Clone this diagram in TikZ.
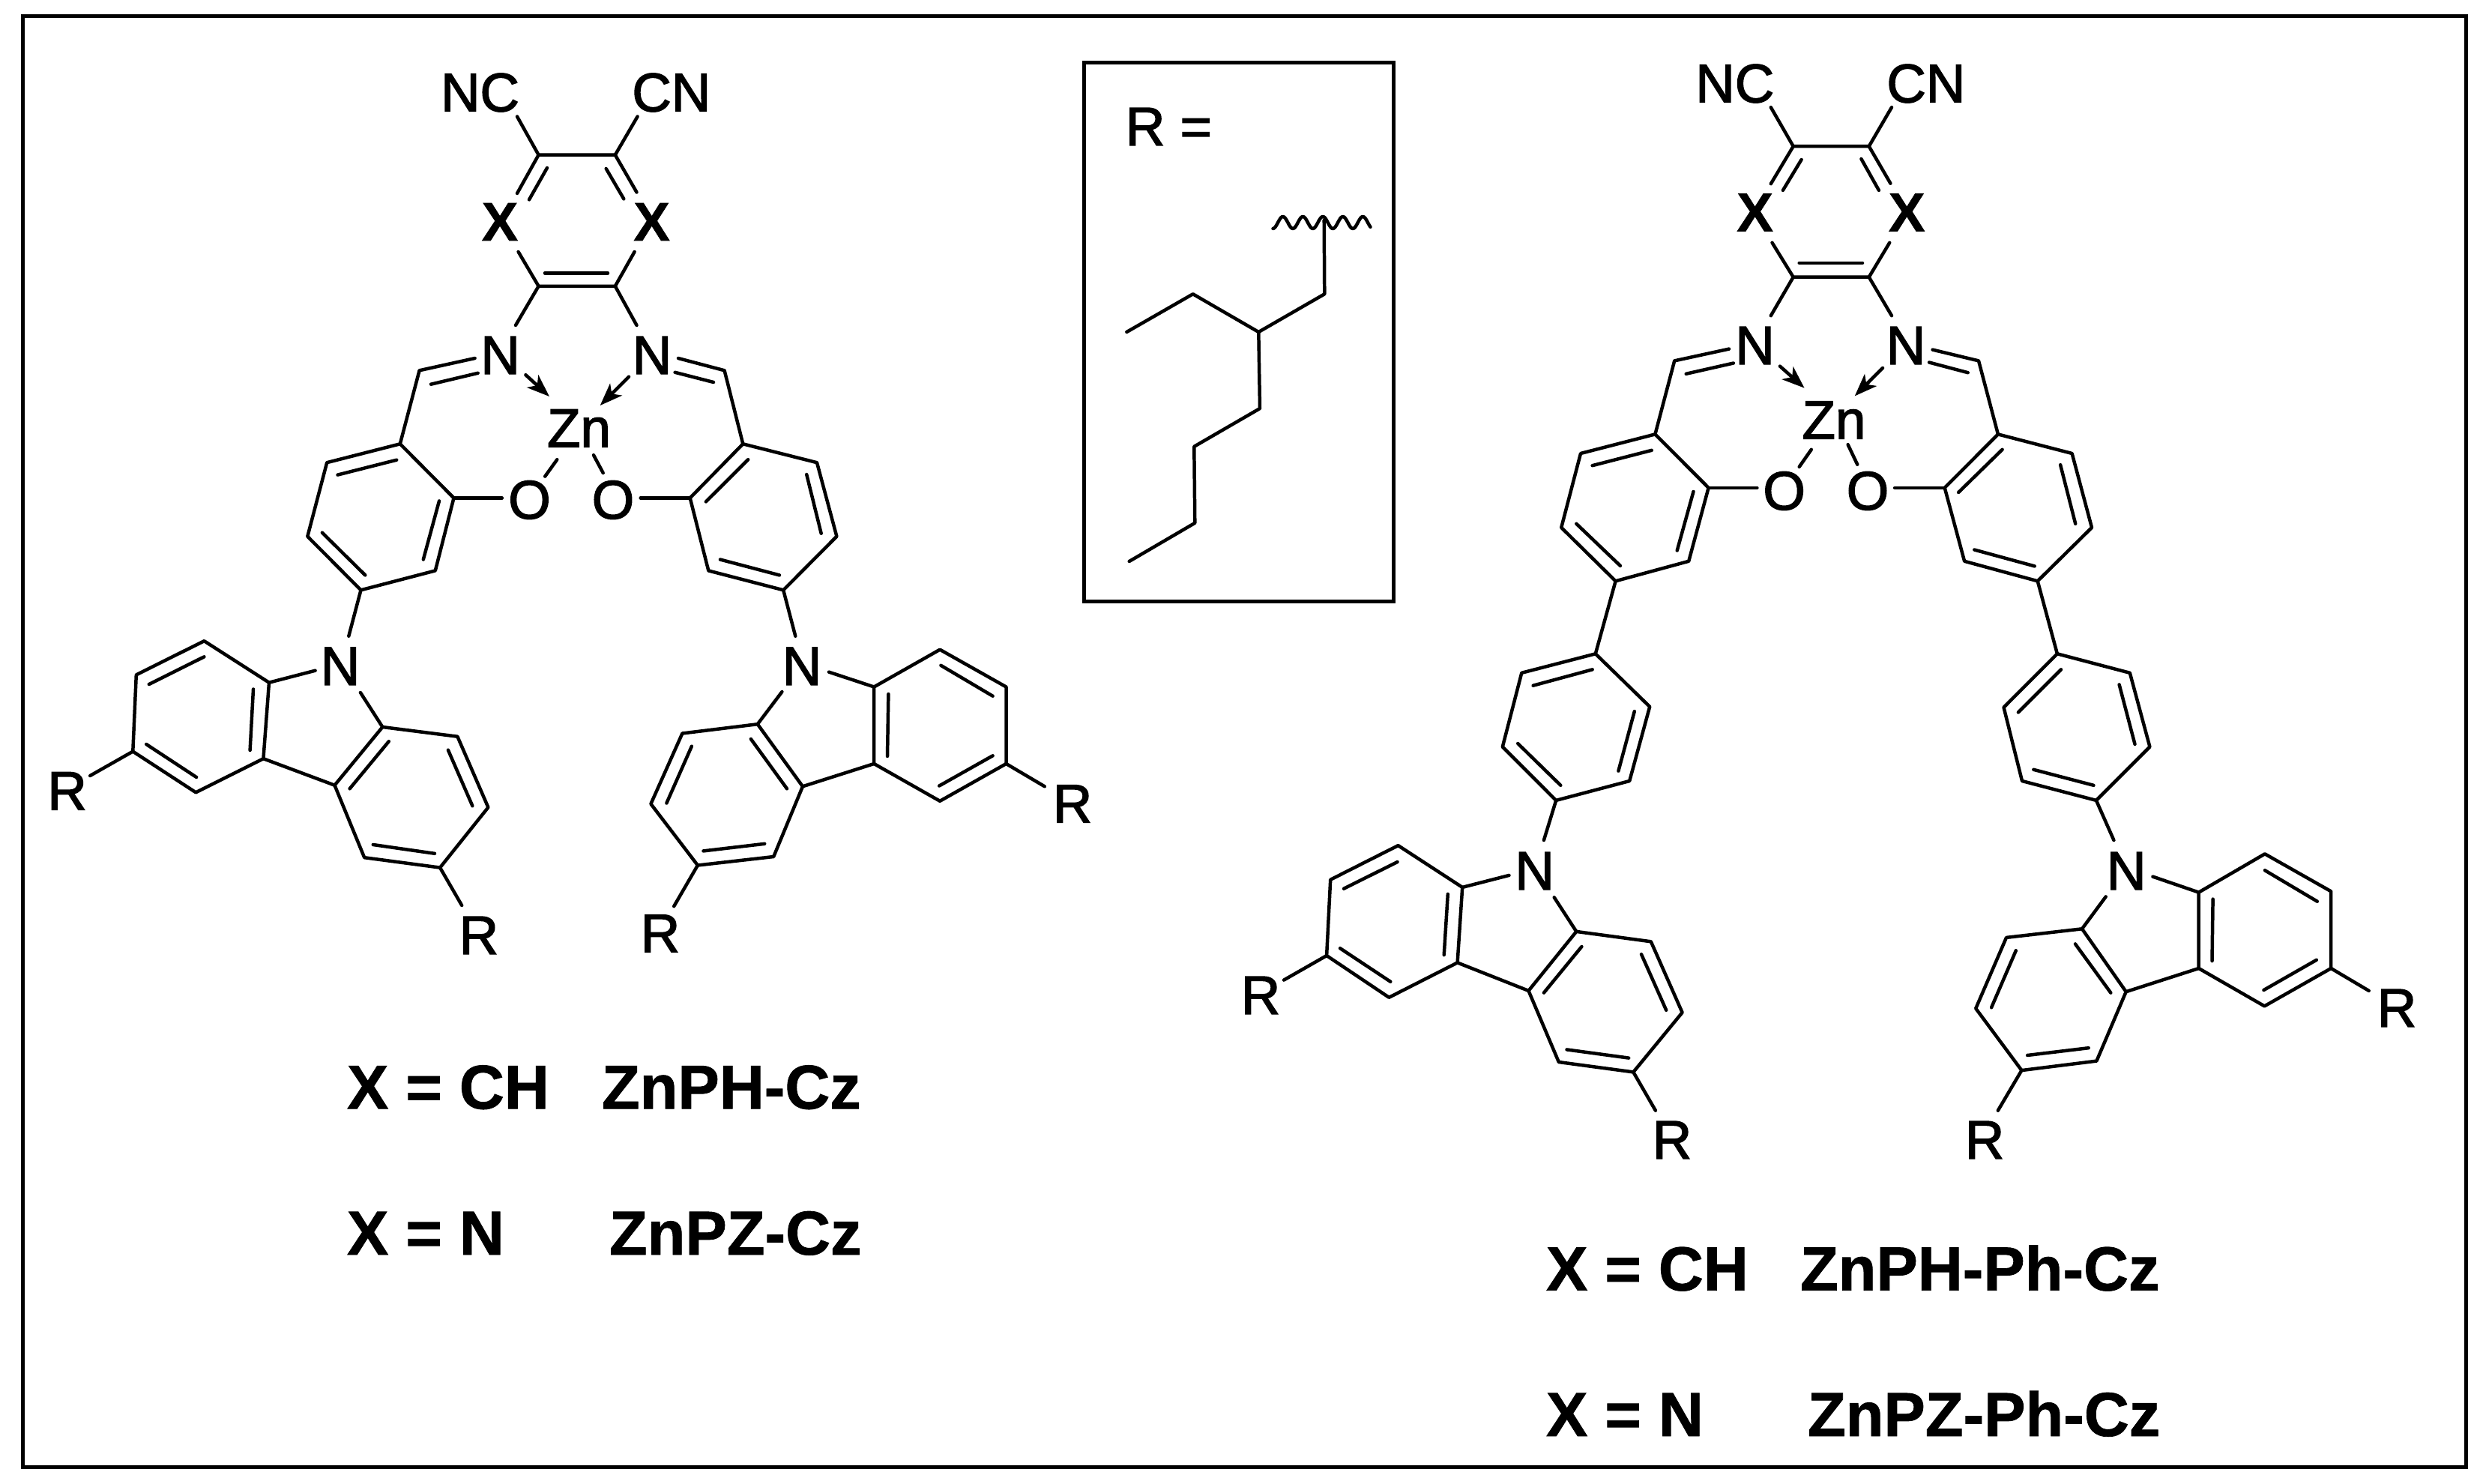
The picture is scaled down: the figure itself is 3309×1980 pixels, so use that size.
\documentclass[tikz,border=0pt]{standalone}
\usepackage{fontspec}
\setmainfont{Liberation Sans}
\newfontfamily\atomfont[RawFeature={embolden=2}]{Liberation Sans}
\newfontfamily\atombold[RawFeature={embolden=1}]{Liberation Sans Bold}
\usetikzlibrary{arrows.meta}
\tikzset{
  bond/.style={line width=1.12pt,line cap=round,line join=round,black},
  inner/.style={bond},
  dative/.style={bond,-{Stealth[length=7.5pt,width=5.6pt,inset=2pt]}},
  frame/.style={line width=1.25pt,black},
  atom/.style={inner sep=0pt,outer sep=0pt,anchor=base,font=\fontsize{18.15}{20}\atomfont},
  xatom/.style={atom,font=\fontsize{18.15}{20}\atombold},
  caption/.style={inner sep=0pt,outer sep=0pt,anchor=base west,font=\fontsize{20.75}{24}\atombold}
}
\newcommand\Pts[1]{\foreach \n/\a/\b in {#1}{\coordinate (\n) at (\a,\b);}}
\begin{document}
\begin{tikzpicture}[x=0.25pt,y=-0.25pt]
\useasboundingbox (0,0) rectangle (3309,1980);
\fill[white] (0,0) rectangle (3309,1980);
\draw[frame] (30.5,21.5) rectangle (3290.5,1957.5);
\draw[frame] (1446.7,84) rectangle (1859,802);

% ---------- left molecule: labels
\node[atom] (aNC) at (640.5,148.5) {NC};
\node[atom] (aCN) at (895.8,148.5) {CN};
\node[xatom] (aX1) at (667,321) {X};
\node[xatom] (aX2) at (869.6,321) {X};
\node[atom] (aN1) at (667.5,499) {N};
\node[atom] (aN2) at (870,499) {N};
\node[atom] (aZn) at (772.5,596.3) {Zn};
\node[atom] (aO1) at (706.5,692) {O};
\node[atom] (aO2) at (818,692) {O};
\node[atom] (aN3) at (454,913.8) {N};
\node[atom] (aN4) at (1070,913.8) {N};
\node[atom] (aR1) at (89.6,1080.3) {R};
\node[atom] (aR2) at (638.9,1273) {R};
\node[atom] (aR3) at (1431,1097.5) {R};
\node[atom] (aR4) at (881,1270.5) {R};

% centre ring
\coordinate (a1) at (718.6,206.7); \coordinate (a2) at (820.8,206.7);
\coordinate (a3) at (718.6,381.8); \coordinate (a4) at (820.8,381.8);
\coordinate (aNCe) at (690,155.5); \coordinate (aCNe) at (850.6,155.5);
\coordinate (aX1t) at (690,258); \coordinate (aX2t) at (849.5,256.5);
\coordinate (aX1b) at (691.6,336); \coordinate (aX2b) at (846.6,336);
\coordinate (aN1e) at (688,434); \coordinate (aN2e) at (849.5,434);
\draw[bond] (aNCe) -- (a1) -- (a2) -- (aCNe);
\draw[bond] (a1) -- (aX1t); \draw[bond] (a2) -- (aX2t);
\draw[bond] (aX1b) -- (a3) -- (a4) -- (aX2b);
\draw[bond] (a3) -- (aN1e); \draw[bond] (a4) -- (aN2e);
\draw[inner] (730,224) -- (706,266.4);
\draw[inner] (808.7,225) -- (832.3,265.4);
\draw[inner] (727,364.4) -- (811,364.4);
% imines
\coordinate (aC1) at (559.6,494.3); \coordinate (aC2) at (966.6,494.3);
\coordinate (aN1l) at (633.6,478); \coordinate (aN2r) at (905,478);
\Pts{al1/533.8/592.3,al2/436.2/617.2,al3/410.3/715.7,al4/481.5/787.3,al5/580.8/761.4,al6/605.5/664.4}
\Pts{ar1/991.3/592.3,ar2/1090/617.2,ar3/1116.4/715.7,ar4/1045.2/787.3,ar5/945.3/761.4,ar6/920.7/664.4}
\draw[bond] (aN1l) -- (aC1) -- (al1);
\draw[bond] (aN2r) -- (aC2) -- (ar1);
\draw[inner] (575,512.7) -- (637.7,497.8);
\draw[inner] (952,510) -- (900.6,496.8);
\draw[bond] (al1) -- (al2) -- (al3) -- (al4) -- (al5) -- (al6) -- cycle;
\draw[bond] (ar1) -- (ar2) -- (ar3) -- (ar4) -- (ar5) -- (ar6) -- cycle;
\draw[inner] (450.5,633.6) -- (529.2,613.7);
\draw[inner] (429.9,710.7) -- (487.3,767.4);
\draw[inner] (564.8,746.5) -- (586,668.4);
\draw[inner] (1076.2,633) -- (1095.7,711.7);
\draw[inner] (960.9,746.5) -- (1040,767.4);
\draw[inner] (998.2,613.2) -- (941.9,669.4);
\coordinate (aO1e) at (669.8,664.4); \coordinate (aO2e) at (854.7,664.4);
\draw[bond] (al6) -- (aO1e); \draw[bond] (ar6) -- (aO2e);
\coordinate (aD1s) at (701.4,500.2); \coordinate (aD1e) at (733,529);
\coordinate (aD2s) at (839,502.7); \coordinate (aD2e) at (800.7,541);
\draw[dative] (aD1s) -- (aD1e);
\draw[dative] (aD2s) -- (aD2e);
\coordinate (aZ1a) at (727.2,635.6); \coordinate (aZ1b) at (743.3,613.2);
\coordinate (aZ2a) at (804.7,631); \coordinate (aZ2b) at (792,607.2);
\draw[bond] (aZ1a) -- (aZ1b); \draw[bond] (aZ2a) -- (aZ2b);
% left carbazole
\coordinate (aN3t) at (465.3,848.7);
\draw[bond] (al4) -- (aN3t);
\Pts{c1/359/910.7,c2/272.4/855.2,c3/181.8/900.4,c4/177.3/1002.6,c5/261.3/1057.3,c6/351.4/1012.2}
\Pts{c7/510.4/970,c8/610.4/982.7,c9/651.4/1077.2,c10/587.1/1157.6,c11/486.2/1144.2,c12/446.5/1047.7}
\coordinate (cNa) at (420.6,894.7); \coordinate (cNb) at (480.9,924);
\coordinate (cRa) at (120.2,1035); \coordinate (cRb) at (616.2,1208);
\draw[bond] (c1) -- (c2) -- (c3) -- (c4) -- (c5) -- (c6) -- cycle;
\draw[bond] (c7) -- (c8) -- (c9) -- (c10) -- (c11) -- (c12) -- cycle;
\draw[bond] (c6) -- (c12);
\draw[bond] (c1) -- (cNa); \draw[bond] (cNb) -- (c7);
\draw[bond] (c4) -- (cRa); \draw[bond] (c10) -- (cRb);
\draw[inner] (198.8,913) -- (272.4,876.3);
\draw[inner] (338,919.5) -- (333.6,1001);
\draw[inner] (195.2,993) -- (262.1,1037);
\draw[inner] (518.8,989.2) -- (466.6,1052.3);
\draw[inner] (597.9,1000.7) -- (630.4,1075.3);
\draw[inner] (497.8,1127) -- (580,1138.8);
% right carbazole
\coordinate (aN4t) at (1061.3,848.7);
\draw[bond] (ar4) -- (aN4t);
\Pts{d1/1166.2/916.5,d2/1254.1/866.7,d3/1342.5/916.5,d4/1342.5/1019,d5/1254.1/1068.8,d6/1166.2/1019}
\Pts{d7/1010.8/966.2,d8/910.4/978.5,d9/868.4/1072.6,d10/930.9/1154.5,d11/1032.2/1143,d12/1071/1049.3}
\coordinate (dNa) at (1105.9,896.6); \coordinate (dNb) at (1043.4,923);
\coordinate (dRa) at (1393.8,1049.3); \coordinate (dRb) at (899.2,1209.2);
\draw[bond] (d1) -- (d2) -- (d3) -- (d4) -- (d5) -- (d6) -- cycle;
\draw[bond] (d7) -- (d8) -- (d9) -- (d10) -- (d11) -- (d12) -- cycle;
\draw[bond] (d6) -- (d12);
\draw[bond] (d1) -- (dNa); \draw[bond] (dNb) -- (d7);
\draw[bond] (d4) -- (dRa); \draw[bond] (d10) -- (dRb);
\draw[inner] (1255.4,887.8) -- (1324.6,928.7);
\draw[inner] (1324.6,1008.3) -- (1253.2,1048.5);
\draw[inner] (1185.4,926) -- (1184,1009);
\draw[inner] (1001.9,986) -- (1050,1052.3);
\draw[inner] (922.9,995.7) -- (889.4,1071.5);
\draw[inner] (938.5,1135.4) -- (1020.2,1125.8);

% ---------- R box
\node[atom,anchor=base west] (rLabel) at (1502,194) {R =};
\Pts{s1/1503.3/443,s2/1591.7/392.3,s3/1679.3/443,s4/1767.3/392.3,s5/1766.7/293.8,s6/1681/545,s7/1593.3/595.8,s8/1594.3/697.8,s9/1506.7/749}
\draw[bond] (s1) -- (s2) -- (s3) -- (s4) -- (s5);
\draw[bond] (s3) -- (s6) -- (s7) -- (s8) -- (s9);
\draw[bond,domain=1698.5:1828.5,samples=120] plot (\x,{297-8*cos(13.498*(\x-1711.7))});

% ---------- right molecule: labels
\node[atom] (bNC) at (2314.8,136.5) {NC};
\node[atom] (bCN) at (2569.8,136.5) {CN};
\node[xatom] (bX1) at (2341.6,308.5) {X};
\node[xatom] (bX2) at (2544.2,308.5) {X};
\node[atom] (bN1) at (2341.6,486) {N};
\node[atom] (bN2) at (2543,486) {N};
\node[atom] (bZn) at (2447,585.5) {Zn};
\node[atom] (bO1) at (2380.6,680) {O};
\node[atom] (bO2) at (2492,680) {O};
\node[atom] (bN3) at (2047.7,1187) {N};
\node[atom] (bN4) at (2837.2,1187) {N};
\node[atom] (bR1) at (1682,1353) {R};
\node[atom] (bR2) at (2231,1546) {R};
\node[atom] (bR3) at (3198,1370) {R};
\node[atom] (bR4) at (2648,1546) {R};

\coordinate (b1) at (2392.7,195.2); \coordinate (b2) at (2493.7,195.2);
\coordinate (b3) at (2392.7,369.7); \coordinate (b4) at (2493.7,369.7);
\coordinate (bNCe) at (2362.8,143.2); \coordinate (bCNe) at (2524,143.2);
\coordinate (bX1t) at (2362.8,245.2); \coordinate (bX2t) at (2522.4,244.7);
\coordinate (bX1b) at (2364.5,323.8); \coordinate (bX2b) at (2521.2,323.8);
\coordinate (bN1e) at (2362.8,421.2); \coordinate (bN2e) at (2524,421.2);
\draw[bond] (bNCe) -- (b1) -- (b2) -- (bCNe);
\draw[bond] (b1) -- (bX1t); \draw[bond] (b2) -- (bX2t);
\draw[bond] (bX1b) -- (b3) -- (b4) -- (bX2b);
\draw[bond] (b3) -- (bN1e); \draw[bond] (b4) -- (bN2e);
\draw[inner] (2403.6,213) -- (2378.9,253.9);
\draw[inner] (2483.4,212) -- (2506.9,253.9);
\draw[inner] (2400.7,350.8) -- (2485,350.8);
\coordinate (bC1) at (2234.2,481.4); \coordinate (bC2) at (2640,481.4);
\coordinate (bN1l) at (2307,465.6); \coordinate (bN2r) at (2578.6,466.6);
\Pts{bl1/2208.4/579.4,bl2/2109/605,bl3/2083.2/703.9,bl4/2155.6/775.3,bl5/2253.2/748.8,bl6/2279.6/650.8}
\Pts{br1/2665.9/579.4,br2/2764.6/605,br3/2791/703.9,br4/2718.7/775.3,br5/2621.1/748.8,br6/2594.7/650.8}
\draw[bond] (bN1l) -- (bC1) -- (bl1);
\draw[bond] (bN2r) -- (bC2) -- (br1);
\draw[inner] (2249.7,498.8) -- (2312.9,484.5);
\draw[inner] (2625.7,497.2) -- (2574,483.5);
\draw[bond] (bl1) -- (bl2) -- (bl3) -- (bl4) -- (bl5) -- (bl6) -- cycle;
\draw[bond] (br1) -- (br2) -- (br3) -- (br4) -- (br5) -- (br6) -- cycle;
\draw[inner] (2124.6,621.2) -- (2203.8,600.8);
\draw[inner] (2103.3,698.8) -- (2161.9,754.9);
\draw[inner] (2237.7,734.5) -- (2259.5,655.9);
\draw[inner] (2749.1,620.2) -- (2769.2,698.8);
\draw[inner] (2634.3,733.5) -- (2714.7,755.4);
\draw[inner] (2671.6,599.8) -- (2613.1,657);
\coordinate (bO1e) at (2344.4,650.8); \coordinate (bO2e) at (2528.1,650.8);
\draw[bond] (bl6) -- (bO1e); \draw[bond] (br6) -- (bO2e);
\coordinate (bD1s) at (2374.9,488.6); \coordinate (bD1e) at (2407.6,517.7);
\coordinate (bD2s) at (2512,491); \coordinate (bD2e) at (2474.7,528.4);
\draw[dative] (bD1s) -- (bD1e);
\draw[dative] (bD2s) -- (bD2e);
\coordinate (bZ1a) at (2400.7,622.8); \coordinate (bZ1b) at (2416.8,599.8);
\coordinate (bZ2a) at (2478.2,619.7); \coordinate (bZ2b) at (2465.6,593.2);
\draw[bond] (bZ1a) -- (bZ1b); \draw[bond] (bZ2a) -- (bZ2b);
% phenylene rings
\Pts{p1/2128.8/872.3,p2/2030.3/897.8,p3/2004.8/996.4,p4/2076.2/1067.9,p5/2174.2/1042,p6/2201.2/942.9}
\Pts{q1/2744.9/872.3,q2/2841.8/897.8,q3/2868.4/996.4,q4/2796.9/1067.9,q5/2698/1042,q6/2673.5/943.8}
\draw[bond] (bl4) -- (p1); \draw[bond] (br4) -- (q1);
\draw[bond] (p1) -- (p2) -- (p3) -- (p4) -- (p5) -- (p6) -- cycle;
\draw[bond] (q1) -- (q2) -- (q3) -- (q4) -- (q5) -- (q6) -- cycle;
\draw[inner] (2045.6,914.7) -- (2124.7,893.3);
\draw[inner] (2025.2,992) -- (2082.3,1047.8);
\draw[inner] (2159.4,1028.6) -- (2180.8,949.1);
\draw[inner] (2750,893.3) -- (2692.9,950.4);
\draw[inner] (2827.6,913.4) -- (2848.5,992.9);
\draw[inner] (2793.4,1047.8) -- (2713.3,1026.8);
% lower left carbazole
\coordinate (bN3t) at (2059.9,1121);
\draw[bond] (p4) -- (bN3t);
\Pts{e1/1951.2/1183.9,e2/1865.5/1128.1,e3/1775.2/1173.7,e4/1770.1/1275,e5/1853.3/1330.8,e6/1944.6/1284.4}
\Pts{e7/2103.3/1242.9,e8/2202.8/1256.3,e9/2244.6/1350.9,e10/2179.3/1430.4,e11/2079.8/1417,e12/2039.5/1321.9}
\coordinate (eNa) at (2013.5,1167.9); \coordinate (eNb) at (2073.7,1197.3);
\coordinate (eRa) at (1713,1307.6); \coordinate (eRb) at (2208.9,1481.7);
\draw[bond] (e1) -- (e2) -- (e3) -- (e4) -- (e5) -- (e6) -- cycle;
\draw[bond] (e7) -- (e8) -- (e9) -- (e10) -- (e11) -- (e12) -- cycle;
\draw[bond] (e6) -- (e12);
\draw[bond] (e1) -- (eNa); \draw[bond] (eNb) -- (e7);
\draw[bond] (e4) -- (eRa); \draw[bond] (e10) -- (eRb);
\draw[inner] (1793,1185.7) -- (1864.5,1150);
\draw[inner] (1931.8,1192.9) -- (1926.7,1274.1);
\draw[inner] (1788,1265.2) -- (1855.3,1309.8);
\draw[inner] (2110.4,1263) -- (2059.9,1324.6);
\draw[inner] (2190,1273.2) -- (2223.2,1347.8);
\draw[inner] (2090.5,1400.4) -- (2173.2,1411.6);
% lower right carbazole
\coordinate (bN4t) at (2820.4,1121);
\draw[bond] (q4) -- (bN4t);
\Pts{f1/2933.7/1190.6,f2/3021.9/1139.3,f3/3110.2/1189.3,f4/3110.2/1292,f5/3021.4/1342.4,f6/2933.7/1292}
\Pts{f7/2778/1239.3,f8/2677/1250.9,f9/2636.2/1345.5,f10/2697.4/1428.1,f11/2797.4/1415.6,f12/2836.7/1323.2}
\coordinate (fNa) at (2872.4,1169.6); \coordinate (fNb) at (2809.7,1196.4);
\coordinate (fRa) at (3160.7,1321.9); \coordinate (fRb) at (2665.8,1481.7);
\draw[bond] (f1) -- (f2) -- (f3) -- (f4) -- (f5) -- (f6) -- cycle;
\draw[bond] (f7) -- (f8) -- (f9) -- (f10) -- (f11) -- (f12) -- cycle;
\draw[bond] (f6) -- (f12);
\draw[bond] (f1) -- (fNa); \draw[bond] (fNb) -- (f7);
\draw[bond] (f4) -- (fRa); \draw[bond] (f10) -- (fRb);
\draw[inner] (3021.9,1161.2) -- (3091.8,1202.7);
\draw[inner] (3090.8,1280.8) -- (3020.4,1321);
\draw[inner] (2952.6,1199.6) -- (2951.5,1282.1);
\draw[inner] (2768.9,1259.4) -- (2816.3,1324.6);
\draw[inner] (2689.8,1268.3) -- (2657.1,1344.2);
\draw[inner] (2705.1,1408) -- (2786.7,1398.2);

% ---------- captions
\node[caption] (t1) at (463,1479.3) {X = CH};
\node[caption] (t2) at (803,1479.3) {ZnPH-Cz};
\node[caption] (t3) at (463,1674) {X = N};
\node[caption] (t4) at (813,1674) {ZnPZ-Cz};
\node[caption] (t5) at (2063,1721.7) {X = CH};
\node[caption] (t6) at (2402,1721.7) {ZnPH-Ph-Cz};
\node[caption] (t7) at (2063,1916) {X = N};
\node[caption] (t8) at (2412,1916) {ZnPZ-Ph-Cz};
\end{tikzpicture}
\end{document}
